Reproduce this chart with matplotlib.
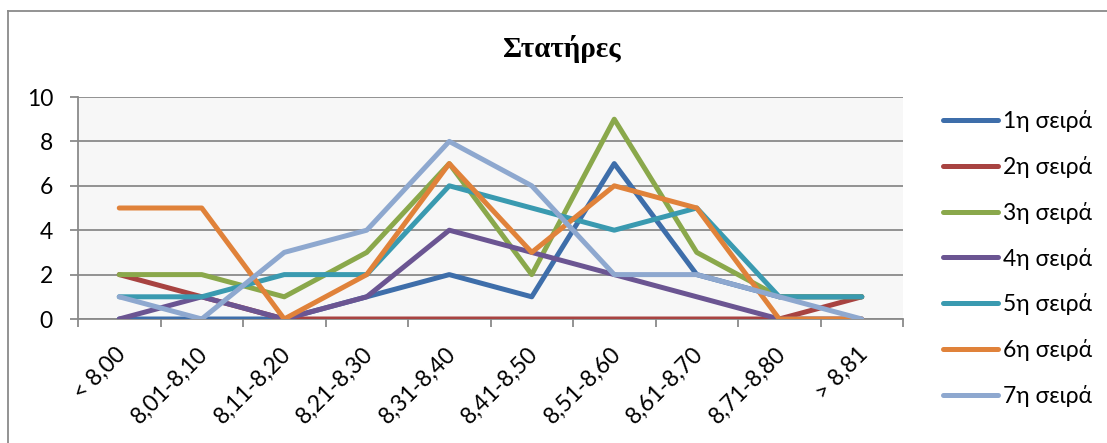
import matplotlib
matplotlib.use("Agg")
import matplotlib.pyplot as plt
from matplotlib.lines import Line2D
from matplotlib.ticker import FixedLocator
import matplotlib.transforms as mtransforms

categories = ["< 8,00", "8,01-8,10", "8,11-8,20", "8,21-8,30", "8,31-8,40",
              "8,41-8,50", "8,51-8,60", "8,61-8,70", "8,71-8,80", "> 8,81"]
series_names = ["1η σειρά", "2η σειρά", "3η σειρά", "4η σειρά",
                "5η σειρά", "6η σειρά", "7η σειρά"]
s1 = [0, 0, 0, 1, 2, 1, 7, 2, 1, 1]
s2 = [2, 1, 0, 0, 0, 0, 0, 0, 0, 1]
s3 = [2, 2, 1, 3, 7, 2, 9, 3, 1, 1]
s4 = [0, 1, 0, 1, 4, 3, 2, 1, 0, 0]
s5 = [1, 1, 2, 2, 6, 5, 4, 5, 1, 1]
s6 = [5, 5, 0, 2, 7, 3, 6, 5, 0, 0]
s7 = [1, 0, 3, 4, 8, 6, 2, 2, 1, 0]
series = [s1, s2, s3, s4, s5, s6, s7]
colors = ["#3E6EAA", "#A84341", "#8AA84B", "#6B5592", "#3A9AB0", "#E0823A", "#8EA8CF"]
yticks = [0, 2, 4, 6, 8, 10]

FONT = ["Lato", "Open Sans", "DejaVu Sans"]
plt.rcParams["font.family"] = FONT
FS = 16.5

W, H = 1107, 443
fig = plt.figure(figsize=(W / 100, H / 100), dpi=100)
fig.patch.set_facecolor("white")

ax = fig.add_axes([78 / W, 1 - 319 / H, (903 - 78) / W, (319 - 97) / H])
ax.set_facecolor("#F7F7F7")

x = list(range(len(categories)))
for vals, name, c in zip(series, series_names, colors):
    ax.plot(x, vals, color=c, lw=3.6, label=name,
            solid_capstyle="round", solid_joinstyle="round", zorder=3)

ax.set_xlim(-0.5, len(categories) - 0.5)
ax.set_ylim(0, 10)
ax.set_yticks(yticks)
ax.set_yticklabels([str(v) for v in yticks])
ax.yaxis.grid(True, color="#8A8A8A", lw=1.3, zorder=1)
ax.set_axisbelow(True)

ax.set_xticks(x)
ax.set_xticklabels(categories, rotation=45, ha="right", va="center",
                   rotation_mode="anchor", fontsize=FS)
ax.xaxis.set_minor_locator(FixedLocator([i - 0.5 for i in range(len(categories) + 1)]))
ax.tick_params(axis="x", which="major", length=0, pad=23)
ax.tick_params(axis="x", which="minor", length=6, width=1.3, color="#8A8A8A", direction="out")
ax.tick_params(axis="y", which="major", length=6, width=1.3, color="#8A8A8A",
               direction="out", pad=12, labelsize=FS)

offset = mtransforms.ScaledTranslation(3 / 100, 0, fig.dpi_scale_trans)
for lbl in ax.get_xticklabels():
    lbl.set_transform(lbl.get_transform() + offset)

for side in ["top", "right"]:
    ax.spines[side].set_visible(False)
for side in ["left", "bottom"]:
    ax.spines[side].set_color("#8A8A8A")
    ax.spines[side].set_linewidth(1.3)

fig.text(562 / W, 1 - 57 / H, "Στατήρες", ha="center", va="baseline",
         fontsize=21, fontweight="bold", family=["Liberation Serif", "DejaVu Serif"])

leg = fig.legend(loc="upper left", bbox_to_anchor=(943 / W, 1 - 110 / H),
                 frameon=False, fontsize=FS, handlelength=2.4, handletextpad=0.22,
                 labelspacing=1.04, borderaxespad=0, borderpad=0)

# chart-area border (only left and top edges fall inside the picture)
fig.add_artist(Line2D([8 / W, 8 / W], [0, 1 - 11 / H], transform=fig.transFigure,
                      color="#8A8A8A", lw=1.3))
fig.add_artist(Line2D([8 / W, 1], [1 - 11 / H, 1 - 11 / H], transform=fig.transFigure,
                      color="#8A8A8A", lw=1.3))

fig.savefig("out.png", dpi=100)
